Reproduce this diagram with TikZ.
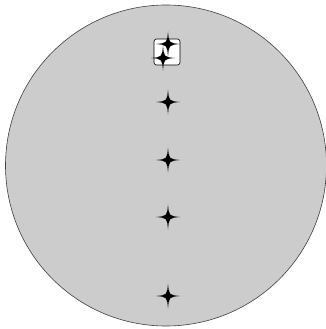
\documentclass[tikz,border=0pt]{standalone}
\usepackage{tikz}
\tikzset{
  twinkle/.pic={
    \fill[black] (0,-12.5) .. controls (1,-1) .. (12,0)
      .. controls (1,1) .. (0,12.5)
      .. controls (-1,1) .. (-12,0)
      .. controls (-1,-1) .. (0,-12.5) -- cycle;
  },
  dial/.style={fill=black!20,draw=black!75,line width=0.6pt},
  tag/.style={fill=white,draw=black,line width=0.6pt,rounded corners=2.5pt}
}
\begin{document}
\begin{tikzpicture}[x=1pt,y=-1pt]
\useasboundingbox (0,0) rectangle (326,329);
\draw[dial] (166,165.5) circle (160.5);
\draw[tag] (154,39) rectangle (180,65);
\pic at (168,44) {twinkle};
\pic at (163,58) {twinkle};
\foreach \y in {102,160,217,296} {
  \pic at (168,\y) {twinkle};
}
\end{tikzpicture}
\end{document}
